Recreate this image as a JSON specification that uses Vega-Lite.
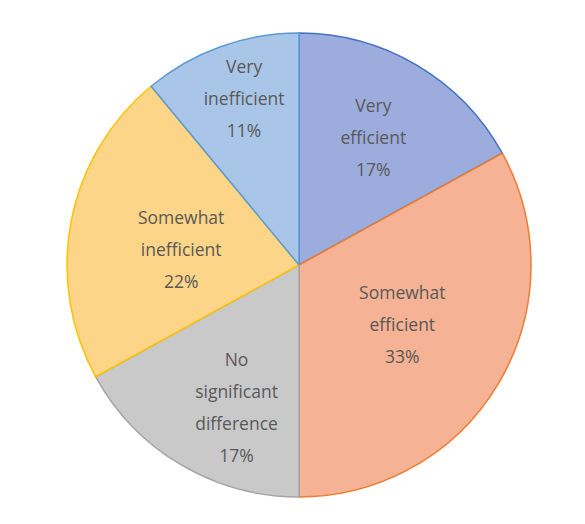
{
  "$schema": "https://vega.github.io/schema/vega-lite/v6.json",
  "width": 588,
  "height": 522,
  "autosize": {"type": "none"},
  "padding": {"left": 5, "top": 4, "right": 0, "bottom": 0},
  "background": "#ffffff",
  "config": {
    "view": {"stroke": "#d9d9d9", "strokeWidth": 1.5},
    "text": {"font": "Open Sans", "fontSize": 17.5, "lineHeight": 32, "lineBreak": "\n", "color": "#595959", "align": "center", "baseline": "middle"}
  },
  "data": {
    "values": [
      {"idx": 1, "category": "Very efficient", "value": 17, "label": "Very\nefficient\n17%"},
      {"idx": 2, "category": "Somewhat efficient", "value": 33, "label": "Somewhat\nefficient\n33%"},
      {"idx": 3, "category": "No significant difference", "value": 17, "label": "No\nsignificant\ndifference\n17%"},
      {"idx": 4, "category": "Somewhat inefficient", "value": 22, "label": "Somewhat\ninefficient\n22%"},
      {"idx": 5, "category": "Very inefficient", "value": 11, "label": "Very\ninefficient\n11%"}
    ]
  },
  "encoding": {
    "theta": {"field": "value", "type": "quantitative", "stack": true},
    "order": {"field": "idx", "type": "quantitative"}
  },
  "layer": [
    {
      "mark": {"type": "arc", "outerRadius": 232, "strokeWidth": 1.5},
      "encoding": {
        "color": {
          "field": "category",
          "type": "nominal",
          "scale": {
            "domain": ["Very efficient", "Somewhat efficient", "No significant difference", "Somewhat inefficient", "Very inefficient"],
            "range": ["#9cacdc", "#f5b294", "#c9c9c9", "#fdd588", "#a9c6e8"]
          },
          "legend": null
        },
        "stroke": {
          "field": "category",
          "type": "nominal",
          "scale": {
            "domain": ["Very efficient", "Somewhat efficient", "No significant difference", "Somewhat inefficient", "Very inefficient"],
            "range": ["#4472c4", "#ed7d31", "#a5a5a5", "#ffc000", "#5b9bd5"]
          },
          "legend": null
        }
      }
    },
    {
      "mark": {"type": "text", "radius": 146, "dy": -32},
      "encoding": {
        "text": {"condition": {"test": "datum.idx == 1", "field": "label"}, "value": ""}
      }
    },
    {
      "mark": {"type": "text", "radius": 120, "dy": -32},
      "encoding": {
        "text": {"condition": {"test": "datum.idx == 2", "field": "label"}, "value": ""}
      }
    },
    {
      "mark": {"type": "text", "radius": 120, "dy": -24},
      "encoding": {
        "text": {"condition": {"test": "datum.idx == 4", "field": "label"}, "value": ""}
      }
    },
    {
      "mark": {"type": "text", "radius": 164, "dy": -45, "dx": 21},
      "encoding": {
        "text": {"condition": {"test": "datum.idx == 3", "field": "label"}, "value": ""}
      }
    },
    {
      "mark": {"type": "text", "radius": 174, "dy": -33, "dx": 4},
      "encoding": {
        "text": {"condition": {"test": "datum.idx == 5", "field": "label"}, "value": ""}
      }
    }
  ]
}
